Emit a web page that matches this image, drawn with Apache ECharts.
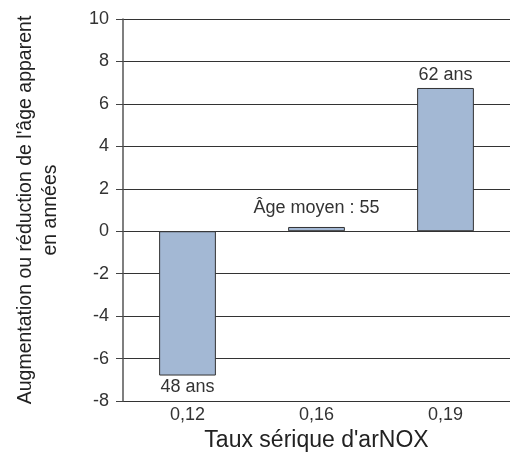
<!DOCTYPE html>
<html><head><meta charset="utf-8">
<script src="https://cdn.jsdelivr.net/npm/echarts@6/dist/echarts.min.js"></script>
<style>html,body{margin:0;padding:0;background:#fff}#c{width:510px;height:460px}</style>
</head><body><div id="c"></div>
<script>
var categories = ['0,12', '0,16', '0,19'];
var values = [-6.8, 0.2, 6.75];
var barLabels = ['48 ans', 'Âge moyen : 55', '62 ans'];
var yTicks = {min: -8, max: 10, interval: 2};

var font = '"Liberation Sans", Arial, sans-serif';
var chart = echarts.init(document.getElementById('c'));
chart.setOption({
  animation: false,
  grid: {left: 123, right: 0, top: 19, bottom: 59},
  xAxis: {
    type: 'category', data: categories, position: 'bottom',
    axisLine: {show: false}, axisTick: {show: false},
    axisLabel: {color: '#333', fontSize: 18, fontFamily: font, margin: 5},
    name: "Taux sérique d'arNOX", nameLocation: 'middle', nameGap: 28,
    nameTextStyle: {color: '#222', fontSize: 23, fontFamily: font}
  },
  yAxis: {
    type: 'value', min: yTicks.min, max: yTicks.max, interval: yTicks.interval,
    axisLine: {show: true, lineStyle: {color: '#555', width: 1.5}},
    axisTick: {show: true, length: 7, lineStyle: {color: '#444'}},
    splitLine: {lineStyle: {color: '#333', width: 1}},
    axisLabel: {color: '#333', fontSize: 18, fontFamily: font, margin: 14},
    name: "Augmentation ou réduction de l'âge apparent\nen années",
    nameLocation: 'middle', nameGap: 60, nameRotate: 90,
    nameTextStyle: {color: '#222', fontSize: 19.5, fontFamily: font, lineHeight: 25}
  },
  series: [{
    type: 'bar', barWidth: '44%',
    itemStyle: {color: '#a3b8d4', borderColor: '#333', borderWidth: 1},
    label: {show: true, color: '#333', fontSize: 18, fontFamily: font},
    data: values.map(function (v, i) {
      var pos = v < 0 ? 'bottom' : 'top';
      var dist = i === 1 ? 10 : (i === 0 ? 2 : 4);
      return {value: v, label: {position: pos, distance: dist, formatter: barLabels[i]}};
    })
  }]
});
</script></body></html>
